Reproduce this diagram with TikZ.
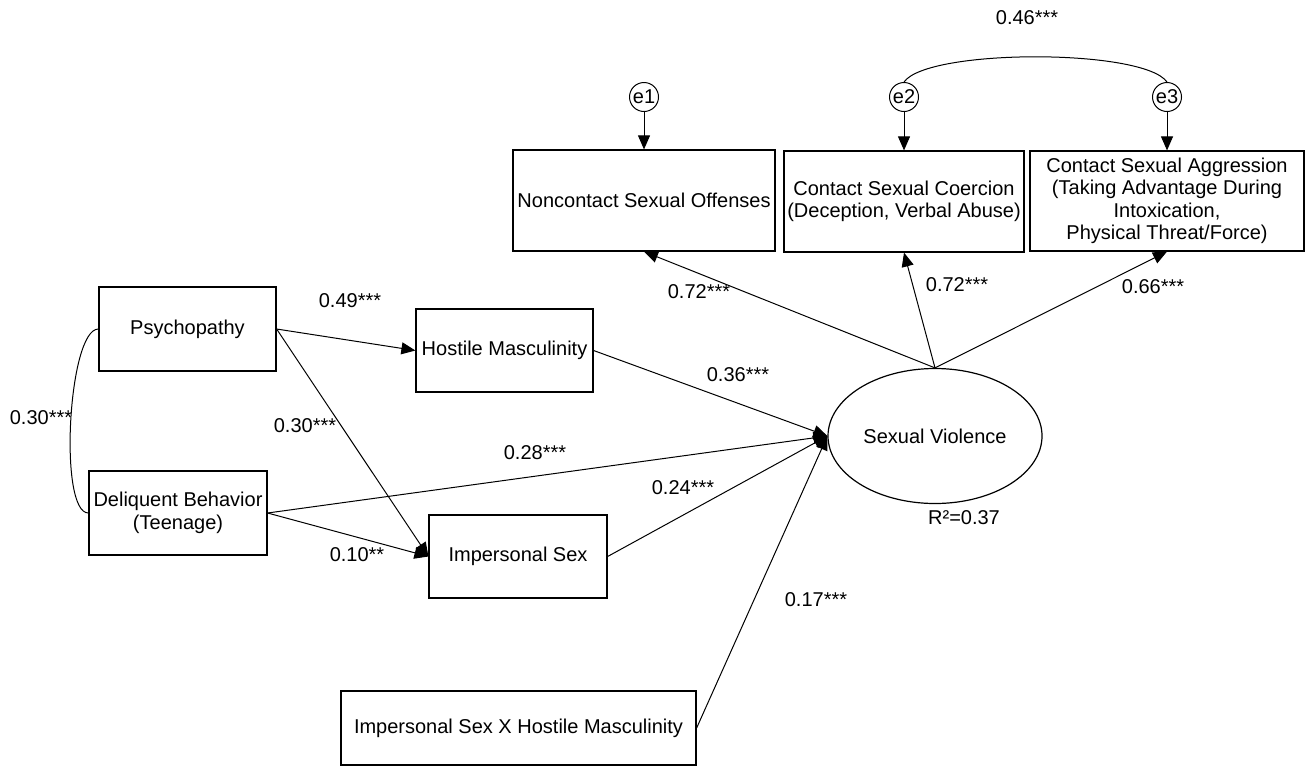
\documentclass[tikz,border=0pt]{standalone}
\usepackage{fontspec}
\setmainfont{Liberation Sans}
\usetikzlibrary{shapes}
\usetikzlibrary{arrows.meta}

\begin{document}
\begin{tikzpicture}[x=0.5pt, y=-0.5pt,
    box/.style={draw, line width=0.6pt, align=center, inner sep=0pt},
    errc/.style={draw, circle, line width=0.5pt, inner sep=0pt, minimum size=14.5pt},
    pth/.style={line width=0.5pt, -{Triangle[length=7pt,width=6pt]}},
    every node/.append style={font=\fontsize{10}{11.25}\selectfont}]

        \useasboundingbox (0,0) rectangle (1309,766);

        % Predictors
        \node[box, minimum width=88.5pt, minimum height=42pt] (psy) at (187.5,329) {Psychopathy};
        \node[box, minimum width=89pt, minimum height=42pt] (dq) at (178,513) {Deliquent Behavior\\(Teenage)};
        \node[box, minimum width=88.5pt, minimum height=41.5pt] (hm) at (504.5,350.5) {Hostile Masculinity};
        \node[box, minimum width=89pt, minimum height=41.5pt] (is) at (518,556.5) {Impersonal Sex};
        \node[box, minimum width=177.5pt, minimum height=37pt] (ix) at (518.5,728) {Impersonal Sex X Hostile Masculinity};

        % Latent outcome
        \node[draw, ellipse, line width=0.6pt, minimum width=107pt, minimum height=67.5pt, inner sep=0pt] (sv) at (935,436) {Sexual Violence};
        \node (r2) at (964,518) {R²=0.37};

        % Indicators
        \node[box, minimum width=131pt, minimum height=50.5pt] (nc) at (644,200.5) {Noncontact Sexual Offenses};
        \node[box, minimum width=120pt, minimum height=50.5pt] (co) at (904,201.5) {Contact Sexual Coercion\\(Deception, Verbal Abuse)};
        \node[box, minimum width=137pt, minimum height=50pt] (ag) at (1167,201) {Contact Sexual Aggression\\(Taking Advantage During\\Intoxication,\\Physical Threat/Force)};

        % Error terms
        \node[errc] (e1) at (644,97) {e1};
        \node[errc] (e2) at (904,97) {e2};
        \node[errc] (e3) at (1167,97) {e3};
        \draw[pth] (e1) -- (nc);
        \draw[pth] (e2) -- (co);
        \draw[pth] (e3) -- (ag);
        \draw[line width=0.5pt] (e2.north) to[out=55, in=125, looseness=0.4] (e3.north);
        \node (c46) at (1027,18) {0.46***};

        % Correlation of predictors
        \draw[line width=0.5pt] (psy.west) to[out=180, in=180, looseness=0.42] (dq.west);
        \node (c30) at (41,418) {0.30***};

        % Paths to mediators
        \draw[pth] (psy.east) -- (hm.west);
        \node (p49) at (350,301) {0.49***};
        \draw[pth] (psy.east) -- (is.west);
        \node (p30) at (305,426) {0.30***};
        \draw[pth] (dq.east) -- (is.west);
        \node (p10) at (357,555) {0.10**};

        % Paths to sexual violence
        \draw[pth] (hm.east) -- (sv.west);
        \node (p36) at (738,375) {0.36***};
        \draw[pth] (dq.east) -- (sv.west);
        \node (p28) at (535,453) {0.28***};
        \draw[pth] (is.east) -- (sv.west);
        \node (p24) at (683,488) {0.24***};
        \draw[pth] (ix.east) -- (sv.west);
        \node (p17) at (816,600) {0.17***};

        % Loadings
        \draw[pth] (sv.north) -- (nc.south);
        \node (l1) at (699,292) {0.72***};
        \draw[pth] (sv.north) -- (co.south);
        \node (l2) at (957,285) {0.72***};
        \draw[pth] (sv.north) -- (ag.south);
        \node (l3) at (1153,287) {0.66***};

\end{tikzpicture}
\end{document}
